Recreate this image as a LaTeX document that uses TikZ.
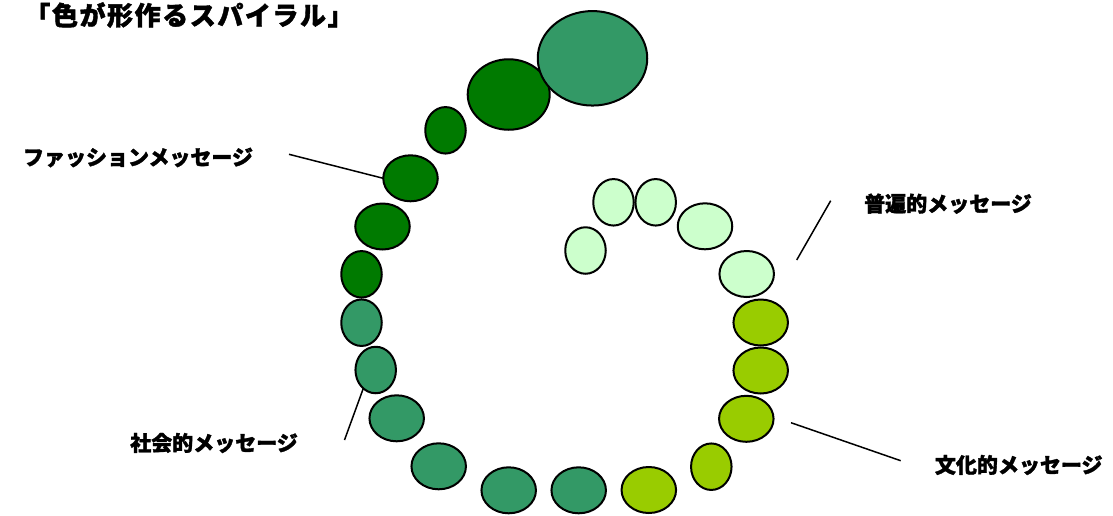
\documentclass[tikz,border=0pt]{standalone}
\usepackage{fontspec}
\newfontfamily\jp{Noto Sans CJK JP}[FakeBold=1.6]
\usetikzlibrary{shapes.geometric}
\definecolor{dkgreen}{RGB}{0,122,0}
\definecolor{mdgreen}{RGB}{51,153,102}
\definecolor{ltgreen}{RGB}{204,255,204}
\definecolor{ygreen}{RGB}{153,204,0}
\tikzset{
  bead/.style={ellipse, draw=black, line width=2pt, inner sep=0pt, outer sep=0pt},
  bigbead/.style={bead, minimum width=54.5pt, minimum height=46pt},
  smallbead/.style={bead, minimum width=40.5pt, minimum height=46.5pt},
  lbl/.style={font=\jp\bfseries\fontsize{21}{21}\selectfont, inner sep=0pt},
  conn/.style={line width=1.5pt, black}
}
\begin{document}
\begin{tikzpicture}[x=1pt,y=-1pt]
\useasboundingbox (0,0) rectangle (1113,515);
% beads
\node[bead, fill=dkgreen, minimum width=82pt, minimum height=70.5pt] (b2) at (508.7,94.5) {};
\node[smallbead, fill=dkgreen] (b3) at (445.5,130.3) {};
\node[bigbead, fill=dkgreen] (b4) at (410.5,178.3) {};
\node[bigbead, fill=dkgreen] (b5) at (382.5,226.5) {};
\node[smallbead, fill=dkgreen] (b6) at (361.5,274.3) {};
\node[smallbead, fill=mdgreen] (b7) at (361.5,322.7) {};
\node[smallbead, fill=mdgreen] (b8) at (375.7,370) {};
\node[bigbead, fill=mdgreen] (b9) at (396.7,418.3) {};
\node[bigbead, fill=mdgreen] (b10) at (438.7,466.3) {};
\node[bigbead, fill=mdgreen] (b11) at (508.7,490.3) {};
\node[bigbead, fill=mdgreen] (b12) at (578.7,490.3) {};
\node[bigbead, fill=ygreen] (b13) at (648.8,490) {};
\node[smallbead, fill=ygreen] (b14) at (711.3,466.7) {};
\node[bigbead, fill=ygreen] (b15) at (746.3,418.8) {};
\node[bigbead, fill=ygreen] (b16) at (760.7,370.5) {};
\node[bigbead, fill=ygreen] (b17) at (760.7,322.5) {};
\node[bigbead, fill=ltgreen] (b18) at (746.7,274) {};
\node[bigbead, fill=ltgreen] (b19) at (705,226.3) {};
\node[smallbead, fill=ltgreen] (b20) at (655.7,202.3) {};
\node[smallbead, fill=ltgreen] (b21) at (613.5,202.3) {};
\node[smallbead, fill=ltgreen] (b22) at (585.5,250.5) {};
\node[bead, fill=mdgreen, minimum width=109.5pt, minimum height=94.5pt] (b1) at (592.5,58.3) {};
% title
\node[font=\jp\bfseries\fontsize{26}{26}\selectfont\addfontfeature{LetterSpace=6}, inner sep=0pt] (title) at (189,15) {「色が形作るスパイラル」};
% labels
\node[lbl] (fashion) at (138,157.5) {ファッションメッセージ};
\node[lbl] (social) at (214,443) {社会的メッセージ};
\node[lbl] (universal) at (948,203.7) {普遍的メッセージ};
\node[lbl] (culture) at (1018.7,465) {文化的メッセージ};
% connector ends
\coordinate (cf) at (289,154.3);
\coordinate (cs) at (344.5,440);
\coordinate (cu1) at (830.7,200.7);
\coordinate (cu2) at (796.7,260);
\coordinate (cc1) at (791,422.7);
\coordinate (cc2) at (900.7,460.7);
\draw[conn] (cf) -- (b4.west);
\draw[conn] (cs) -- (b8.236);
\draw[conn] (cu1) -- (cu2);
\draw[conn] (cc1) -- (cc2);
\end{tikzpicture}
\end{document}
